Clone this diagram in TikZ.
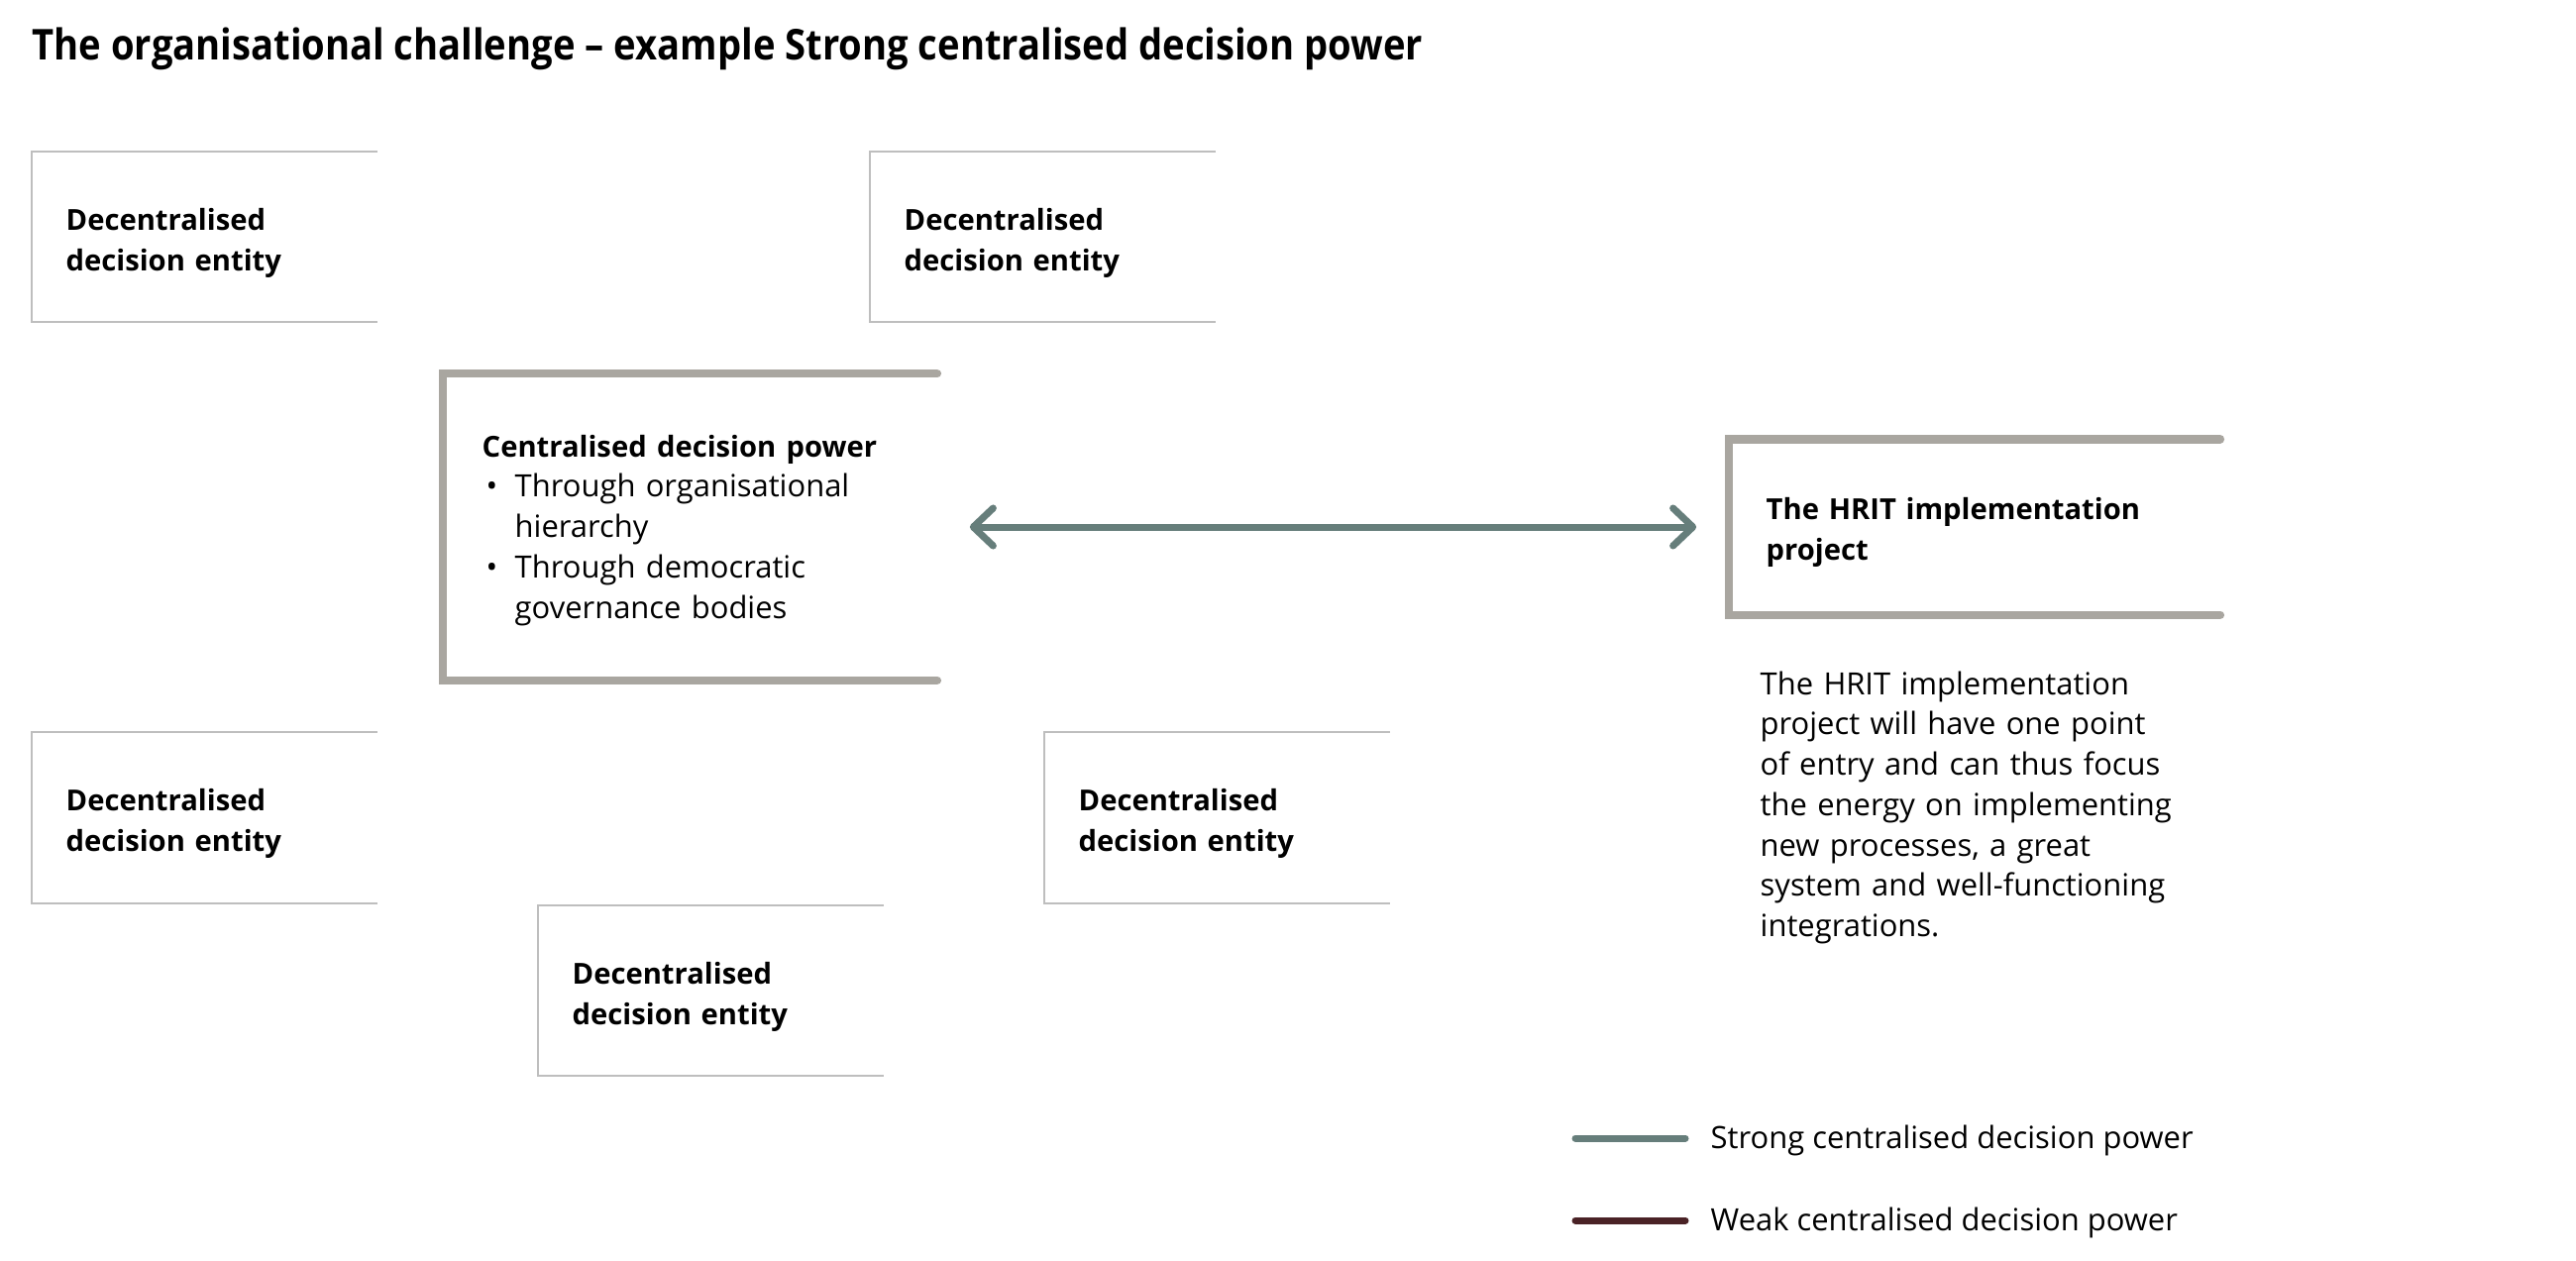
\documentclass[tikz,border=0pt]{standalone}
\usepackage{fontspec}
\setmainfont{Open Sans}
\newfontfamily\condfont[FakeStretch=0.89]{Open Sans}
\usetikzlibrary{arrows.meta}
\definecolor{thinline}{HTML}{BEBEBE}
\definecolor{thickline}{HTML}{A9A6A0}
\definecolor{strongc}{HTML}{667E7B}
\definecolor{weakc}{HTML}{4A2226}
\tikzset{
  thinframe/.style={draw=thinline, line width=0.025cm},
  thickframe/.style={draw=thickline, line width=0.085cm, line cap=round, line join=miter},
  dtext/.style={anchor=base west, inner sep=0pt, align=left, text width=3.2cm, font=\fontsize{8.3}{11.7}\selectfont\bfseries},
  btext/.style={anchor=base west, inner sep=0pt, align=left, font=\fontsize{8.8}{11.6}\selectfont},
  legline/.style={line width=0.07cm, line cap=round},
}
\begin{document}
\begin{tikzpicture}[x=0.01cm,y=-0.01cm]
\useasboundingbox (0,0) rectangle (2600,1273);
% title
\node[anchor=base west, inner sep=0pt, font=\fontsize{12.2}{14}\selectfont\condfont\bfseries] (title) at (32,61) {The organisational challenge \textendash{} example Strong centralised decision power};
% decentralised boxes
\draw[thinframe] (381,153) -| (32,325) -- (381,325);
\node[dtext] (d1) at (66,232) {Decentralised\\decision entity};
\draw[thinframe] (1227,153) -| (878,325) -- (1227,325);
\node[dtext] (d2) at (912,232) {Decentralised\\decision entity};
\draw[thinframe] (381,739) -| (32,912) -- (381,912);
\node[dtext] (d3) at (66,818) {Decentralised\\decision entity};
\draw[thinframe] (1403,739) -| (1054,912) -- (1403,912);
\node[dtext] (d4) at (1088,818) {Decentralised\\decision entity};
\draw[thinframe] (892,914) -| (543,1086) -- (892,1086);
\node[dtext] (d5) at (577,993) {Decentralised\\decision entity};
% central box
\node[minimum width=4.97cm, minimum height=3.08cm, inner sep=0pt] (cbox) at (696.5,532) {};
\draw[thickframe] (cbox.north east) -- (cbox.north west) -- (cbox.south west) -- (cbox.south east);
\node[btext, text width=4.2cm] (ctext) at (486,461) {{\fontsize{8.3}{11.6}\selectfont\bfseries Centralised decision power}\\
\hspace*{0.04cm}\makebox[0.29cm][l]{\textbullet}Through organisational\\
\hspace*{0.33cm}hierarchy\\
\hspace*{0.04cm}\makebox[0.29cm][l]{\textbullet}Through democratic\\
\hspace*{0.33cm}governance bodies};
% HRIT box
\node[minimum width=4.94cm, minimum height=1.76cm, inner sep=0pt] (hrit) at (1993,532) {};
\draw[thickframe] (hrit.north east) -- (hrit.north west) -- (hrit.south west) -- (hrit.south east);
\node[dtext, text width=4.2cm] (htext) at (1782,524) {The HRIT implementation\\project};
\node[btext, text width=4.4cm] (desc) at (1776,701) {The HRIT implementation\\project will have one point\\of entry and can thus focus\\the energy on implementing\\new processes, a great\\system and well-functioning\\integrations.};
% arrow
\draw[strongc, line width=0.07cm, line cap=round, shorten <=0.33cm, shorten >=0.33cm,
  {Straight Barb[length=0.2cm, width=0.38cm, round]}-{Straight Barb[length=0.2cm, width=0.38cm, round]}] (cbox.east) -- (hrit.west);
% legend
\coordinate (l1a) at (1590,1149);
\coordinate (l1b) at (1701,1149);
\draw[legline, strongc] (l1a) -- (l1b);
\node[btext] (leg1) at (1726,1159) {Strong centralised decision power};
\coordinate (l2a) at (1590,1232);
\coordinate (l2b) at (1701,1232);
\draw[legline, weakc] (l2a) -- (l2b);
\node[btext] (leg2) at (1726,1242) {Weak centralised decision power};
\end{tikzpicture}
\end{document}
